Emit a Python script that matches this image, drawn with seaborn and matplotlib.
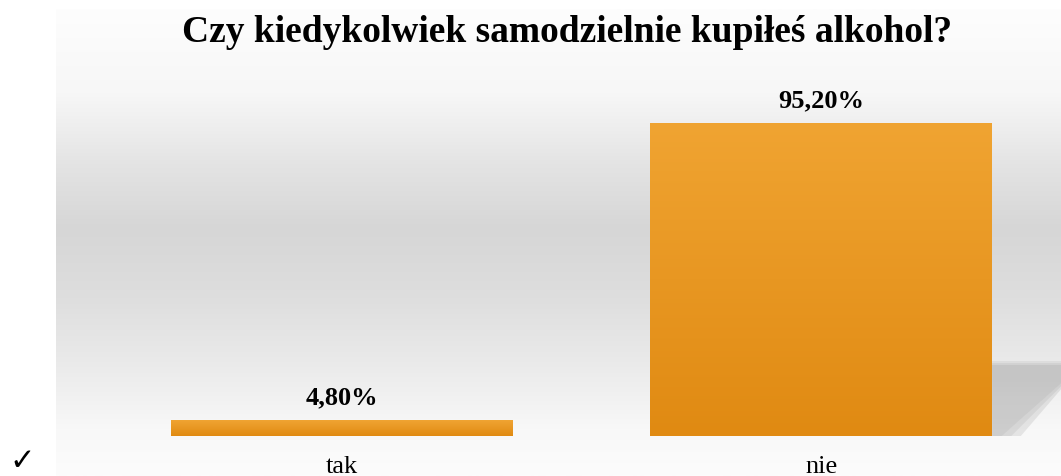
import numpy as np
import matplotlib
matplotlib.use("Agg")
import matplotlib.pyplot as plt
from matplotlib.colors import LinearSegmentedColormap
from matplotlib.patches import Polygon
import seaborn as sns
import pandas as pd

categories = ["tak", "nie"]
values = [4.80, 95.20]
labels = ["4,80%", "95,20%"]
title = "Czy kiedykolwiek samodzielnie kupiłeś alkohol?"

sns.set_theme(style="white")
plt.rcParams['font.family'] = ['Liberation Serif', 'DejaVu Serif']

W, H = 1061, 477
fig = plt.figure(figsize=(W / 100, H / 100), dpi=100)
fig.patch.set_facecolor("white")

# background gradient panel
bg = fig.add_axes([56 / W, 0, 1 - 56 / W, (H - 10) / H], zorder=0)
bg_cmap = LinearSegmentedColormap.from_list(
    "bg", [(0.0, "#fdfdfd"), (0.18, "#f7f7f7"), (0.33, "#e4e4e4"),
           (0.47, "#d6d6d6"), (0.62, "#dedede"), (0.78, "#ececec"),
           (0.90, "#f8f8f8"), (1.0, "#fcfcfc")])
grad = np.linspace(0, 1, 256).reshape(-1, 1)
bg.imshow(grad, aspect="auto", cmap=bg_cmap, extent=[0, 1, 0, 1], origin="upper")
bg.set_axis_off()

ax = fig.add_axes([102 / W, 40 / H, 959 / W, 329 / H], zorder=1)
ax.patch.set_alpha(0)
df = pd.DataFrame({"cat": categories, "val": values})
sns.barplot(data=df, x="cat", y="val", ax=ax, width=0.7125, color="#e8961f",
            saturation=1, edgecolor="none")
ax.set_xlim(-0.5, 1.5)
ax.set_ylim(0, 100)

bar_cmap = LinearSegmentedColormap.from_list("bar", ["#e08a12", "#f0a432"])
for p in ax.patches:
    x0, y0 = p.get_x(), p.get_y()
    w, h = p.get_width(), p.get_height()
    im = ax.imshow(np.linspace(0, 1, 256).reshape(-1, 1), cmap=bar_cmap,
                   aspect="auto", origin="lower",
                   extent=[x0, x0 + w, y0, y0 + h], zorder=2)
    im.set_clip_path(p)

# cast shadow to the right of the tallest bar
tall = max(ax.patches, key=lambda p: p.get_height())
xr = tall.get_x() + tall.get_width()
for k, a in enumerate([0.12, 0.14, 0.18]):
    d = 0.6 * k
    sh = Polygon([(xr, 0), (xr, 22.8 - d), (1.5, 22.8 - d),
                  (1.5, 16.0 - 1.5 * d), (xr + 0.02 + 0.02 * k, 0)],
                 closed=True, facecolor="#8a8a8a", alpha=a, edgecolor="none",
                 zorder=1.5)
    ax.add_patch(sh)

for p, lab in zip(ax.patches, labels):
    ax.annotate(lab, (p.get_x() + p.get_width() / 2, p.get_height()),
                xytext=(0, 12.2), textcoords="offset points",
                ha="center", va="baseline", fontsize=19, fontweight="bold",
                color="black")

ax.set_xlabel("")
ax.set_ylabel("")
ax.set_yticks([])
ax.tick_params(axis="x", length=0, pad=14, labelsize=19, labelcolor="black")
for s in ax.spines.values():
    s.set_visible(False)

fig.text(567.5 / W, 1 - 32 / H, title, ha="center", va="center",
         fontsize=27, fontweight="bold", color="black")
fig.text(9 / W, 1 / H, "✓", ha="left", va="bottom", fontsize=22,
         color="black", family=["DejaVu Sans"])

fig.savefig("out.png", dpi=100)
